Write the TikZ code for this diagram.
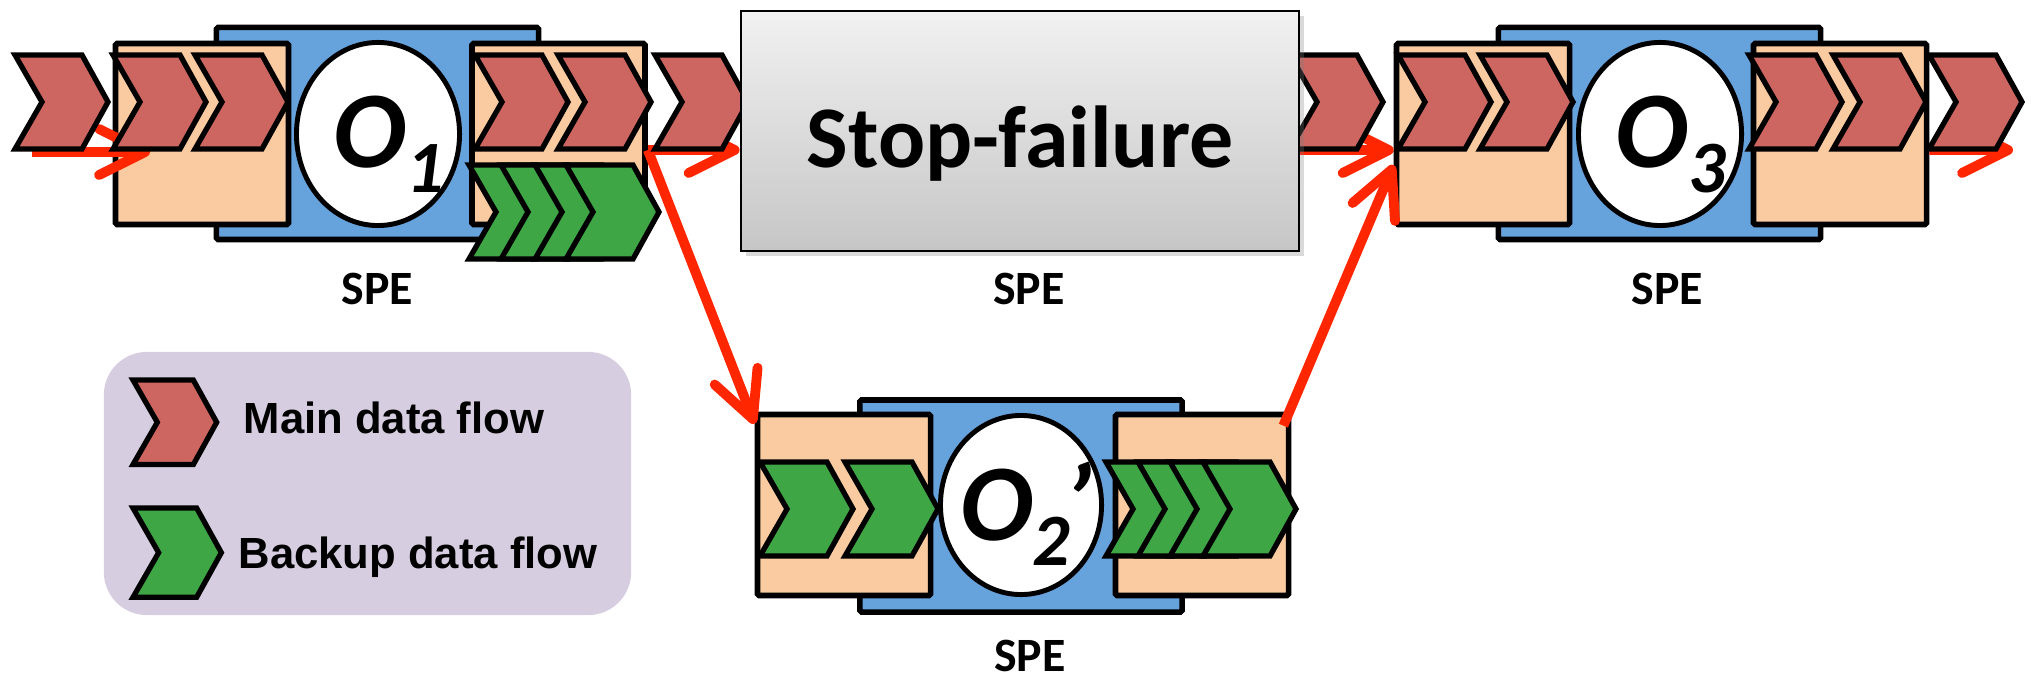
\documentclass[tikz,border=0pt]{standalone}
\usepackage{fontspec}
\setmainfont{Carlito}
\newfontfamily\legendfont{Liberation Sans}
\usepackage{tikz}
\usetikzlibrary{positioning, arrows.meta, shapes.geometric, shadows}

\definecolor{speblue}{RGB}{102,162,220}
\definecolor{queuepeach}{RGB}{250,203,160}
\definecolor{mainred}{RGB}{205,102,96}
\definecolor{backupgreen}{RGB}{62,166,69}
\definecolor{flowarrow}{RGB}{255,38,0}
\definecolor{legendbg}{RGB}{214,205,224}
\definecolor{sftop}{RGB}{241,241,241}
\definecolor{sfbottom}{RGB}{198,198,198}

\pgfdeclarelayer{front}
\pgfsetlayers{main,front}

\tikzset{spe/.style={draw, line width=1.6pt, fill=speblue, inner sep=0pt, minimum width=3.22cm, minimum height=2.12cm, rounded corners=0.5pt}}
\tikzset{queue/.style={draw, line width=1.6pt, fill=queuepeach, inner sep=0pt, minimum width=1.73cm, minimum height=1.81cm, rounded corners=0.5pt}}
\tikzset{operator/.style={ellipse, draw, line width=1.4pt, fill=white, inner sep=0pt, minimum width=1.63cm, minimum height=1.83cm}}
\tikzset{oplabel/.style={anchor=base, inner sep=0pt, font=\fontsize{31}{33}\selectfont\bfseries\itshape}}
\tikzset{spelabel/.style={anchor=base, inner sep=0pt, font=\fontsize{13.6}{16}\selectfont\bfseries}}
\tikzset{mainflow/.style={draw, line width=1.5pt, fill=mainred}}
\tikzset{backupflow/.style={draw, line width=1.5pt, fill=backupgreen}}
\tikzset{flowarr/.style={draw=flowarrow, line width=2.8pt, -{Straight Barb[length=0.46cm, width=0.46cm, round]}}}
\tikzset{failbox/.style={draw, line width=0.7pt, top color=sftop, bottom color=sfbottom, inner sep=0pt, minimum width=5.58cm, minimum height=2.4cm, drop shadow={shadow xshift=0.05cm, shadow yshift=-0.05cm, opacity=0.3}}}
\tikzset{legendbox/.style={fill=legendbg, rounded corners=0.43cm, inner sep=0pt, minimum width=5.27cm, minimum height=2.63cm}}
\tikzset{legendtext/.style={anchor=base west, inner sep=0pt, font=\legendfont\bfseries\fontsize{12.4}{15}\selectfont}}

\newcommand{\chevron}[3]{\draw[#1] (#2,#3) -- ++(67,0) -- ++(26,47) -- ++(-26,47) -- ++(-67,0) -- ++(27,-47) -- cycle;}
\newcommand{\opsub}[1]{\raisebox{-0.25cm}{\fontsize{21}{22}\selectfont #1}}

\begin{document}
\begin{tikzpicture}[x=0.01cm, y=-0.01cm]
\useasboundingbox (0,0) rectangle (2031,679);

% failed SPE, kept on top of the tuples
\begin{pgfonlayer}{front}
    \node[failbox] (sf) at (1020,131) {};
    \node[anchor=base, inner sep=0pt, font=\fontsize{25}{30}\selectfont\bfseries] (sftext)
        at ([yshift=-0.36cm]sf.center) {Stop-failure};
\end{pgfonlayer}

% legend
\node[legendbox] (legend) at (367.5,483.5) {};
\begin{scope}[shift={(133,380)}, scale=0.9] \chevron{mainflow}{0}{0} \end{scope}
\begin{scope}[shift={(133,508)}, scale=0.95] \chevron{backupflow}{0}{0} \end{scope}
\node[legendtext] (mainlbl) at (243,433) {Main data flow};
\node[legendtext] (backlbl) at (238,568) {Backup data flow};

% SPEs and their queues
\node[spe] (b1) at (377.5,133.5) {};
\node[queue] (q1in) at (202,134) {};
\node[queue] (q1out) at (558.5,134) {};
\node[spe] (b2) at (1021,506) {};
\node[queue] (q2in) at (844,505) {};
\node[queue] (q2out) at (1202,505) {};
\node[spe] (b3) at (1659.5,133.5) {};
\node[queue] (q3in) at (1483,134) {};
\node[queue] (q3out) at (1840,134) {};

% data paths
\coordinate (feed) at (32,152);
\coordinate (drain) at (2013,150);
\coordinate (fork) at ([yshift=-0.16cm]q1out.east);
\draw[flowarr] (feed) -- (150,152);
\draw[flowarr] (fork) -- (sf.west |- fork);
\draw[flowarr] (fork) -- ([yshift=-0.12cm]q2in.north west);
\draw[flowarr] (sf.east |- fork) -- (q3in.west |- fork);
\draw[flowarr] ([xshift=-0.08cm, yshift=-0.14cm]q2out.north east) -- ([yshift=-0.31cm]q3in.west);
\draw[flowarr] (q3out.east |- fork) -- (drain);

% tuples
\foreach \x in {15,113,195,475,558,655,1290,1398,1480,1749,1833,1929}
    {\chevron{mainflow}{\x}{55}}
\foreach \x in {469,501,535,566}
    {\chevron{backupflow}{\x}{165}}
\foreach \x in {760,845,1106,1138,1170,1203}
    {\chevron{backupflow}{\x}{462}}

% operators
\node[operator] (o1) at (378,134) {};
\node[operator, minimum width=1.61cm, minimum height=1.79cm] (o2) at (1021,505) {};
\node[operator] (o3) at (1660,134) {};
\node[oplabel] (o1lbl) at ([xshift=0.11cm, yshift=-0.33cm]o1.center) {O\opsub{1}};
\node[oplabel] (o2lbl) at ([xshift=0.05cm, yshift=-0.35cm]o2.center) {O\opsub{2}\kern-0.06em’};
\node[oplabel] (o3lbl) at ([xshift=0.11cm, yshift=-0.33cm]o3.center) {O\opsub{3}};

\node[spelabel] (b1lbl) at ([yshift=-0.62cm]b1.south) {SPE};
\node[spelabel] (sflbl) at ([xshift=0.09cm, yshift=-0.52cm]sf.south) {SPE};
\node[spelabel] (b2lbl) at ([xshift=0.09cm, yshift=-0.57cm]b2.south) {SPE};
\node[spelabel] (b3lbl) at ([xshift=0.08cm, yshift=-0.62cm]b3.south) {SPE};
\end{tikzpicture}
\end{document}
